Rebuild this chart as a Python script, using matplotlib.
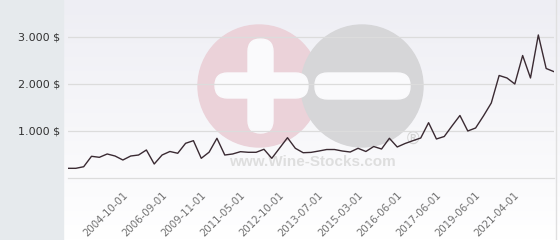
import numpy as np
import matplotlib.pyplot as plt
from matplotlib.patches import Circle, FancyBboxPatch, Rectangle
from matplotlib.colors import LinearSegmentedColormap
from matplotlib.transforms import ScaledTranslation

# price per point (USD)
prices = [206, 206, 240, 462, 440, 511, 468, 383, 468, 489,
          596, 298, 489, 564, 526, 738, 794, 419, 549, 845,
          489, 511, 560, 547, 547, 611, 419, 638, 857, 632,
          538, 545, 574, 606, 606, 574, 553, 632, 564, 670,
          617, 845, 660, 734, 794, 851, 1177, 830, 883, 1110,
          1330, 1000, 1064, 1320, 1596, 2181, 2128, 2000, 2606, 2128,
          3043, 2330, 2262]
tick_dates = ['2004-10-01', '2006-09-01', '2009-11-01', '2011-05-01',
              '2012-10-01', '2013-07-01', '2015-03-01', '2016-06-01',
              '2017-06-01', '2019-06-01', '2021-04-01']
y_ticks = [1000, 2000, 3000]

fig = plt.figure(figsize=(5.6, 2.4), dpi=100)

# background layer in pixel coords (panel, gradient, watermark)
bg = fig.add_axes([0, 0, 1, 1])
bg.set_xlim(0, 560)
bg.set_ylim(240, 0)
bg.axis('off')
grad = np.linspace(0, 1, 240)[:, None]
cmap = LinearSegmentedColormap.from_list('bg', ['#eeeef4', '#ffffff'])
bg.imshow(grad, extent=(64, 560, 240, 0), cmap=cmap, aspect='auto', zorder=0)
bg.add_patch(Rectangle((0, 0), 63, 240, color='#e6eaed', zorder=1))
bg.plot([556, 556], [0, 240], color='#e0e0e0', lw=1, zorder=1)

bg.add_patch(Circle((259, 86), 61, color='#ebd2d9', zorder=2))
bg.add_patch(Circle((362, 86), 61, color='#d6d6d8', zorder=3))
for x, y, w, h in [(248, 39, 25, 94), (215, 73, 93, 25), (315, 73, 95, 26)]:
    bg.add_patch(FancyBboxPatch((x, y), w, h, boxstyle='round,pad=0,rounding_size=12.5',
                                color='#fafafc', zorder=4))
bg.text(312, 162, 'www.Wine-Stocks.com', color='#dedede', fontsize=11,
        fontweight='bold', family='Liberation Sans', ha='center', va='center', zorder=4)
bg.text(413, 139, '\u00ae', color='#d4d4d4', fontsize=12, ha='center', va='center', zorder=4)

# main chart
ax = fig.add_axes([68 / 560, 1 - 178 / 240, (554 - 68) / 560, 178 / 240])
ax.patch.set_alpha(0)
x = np.arange(len(prices))
ax.plot(x, prices, color='#3a2a32', lw=1)
ax.set_xlim(0, len(prices) - 1)
ax.set_ylim(0, 3787)

ax.set_yticks(y_ticks)
ax.set_yticklabels([f'{v:,} $'.replace(',', '.') for v in y_ticks])
ax.grid(axis='y', color='#dcdcdc', lw=0.9)
ax.tick_params(axis='y', length=0, pad=5.8, labelsize=8, labelcolor='#333333')

ax.set_xticks(range(7, 7 + 5 * len(tick_dates), 5))
ax.set_xticklabels(tick_dates, rotation=45, ha='right', va='center',
                   rotation_mode='anchor')
ax.tick_params(axis='x', length=0, pad=11, labelsize=7.3, labelcolor='#707070')
offset = ScaledTranslation(3 / 100, 0, fig.dpi_scale_trans)
for lbl in ax.get_xticklabels():
    lbl.set_transform(lbl.get_transform() + offset)

for side in ['top', 'right', 'left']:
    ax.spines[side].set_visible(False)
ax.spines['bottom'].set_color('#dcdcdc')
ax.spines['bottom'].set_linewidth(0.9)

fig.savefig('out.png', dpi=100)
